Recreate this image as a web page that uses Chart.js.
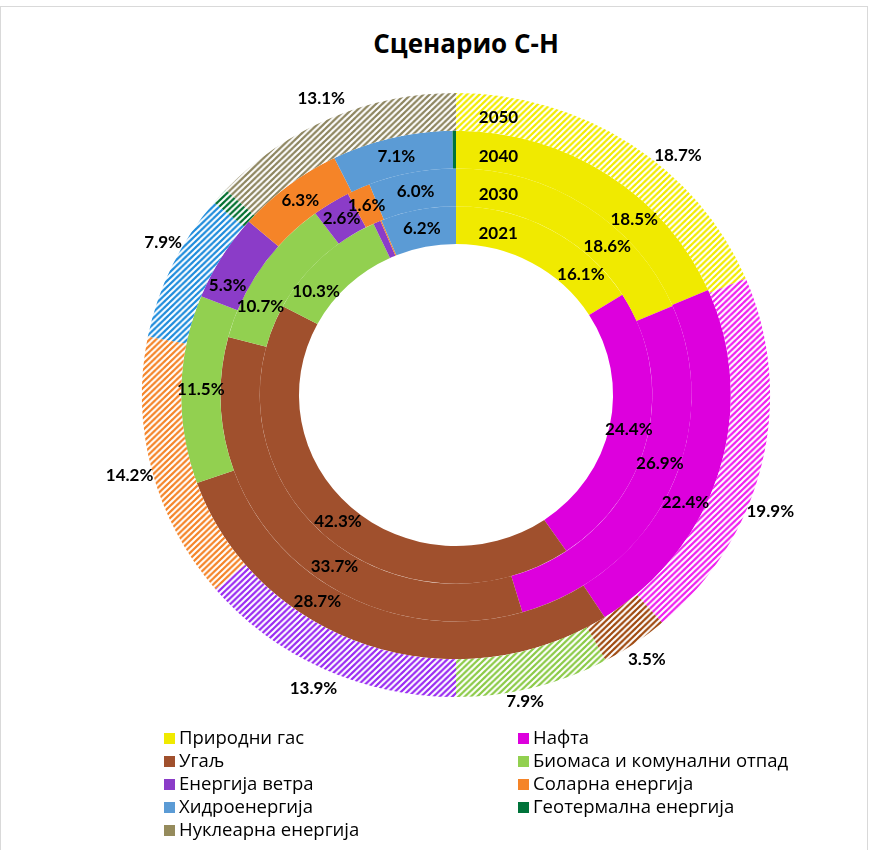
<!DOCTYPE html>
<html>
<head>
<meta charset="utf-8">
<script src="https://cdn.jsdelivr.net/npm/chart.js@4.4.0/dist/chart.umd.min.js"></script>
<style>
    body { margin: 0; background: #fff; font-family: "Open Sans", sans-serif; }
    #wrap { position: relative; width: 881px; height: 850px; overflow: hidden; }
    #frame { position: absolute; left: 0; top: 6px; width: 868px; height: 860px; border: 1px solid #d9d9d9; box-sizing: border-box; }
    #title { position: absolute; top: 25px; left: 0; width: 932px; text-align: center; font-weight: bold; font-size: 26px; color: #000; }
    #chart { position: absolute; left: 0; top: 0; }
    .item { position: absolute; font-size: 18.5px; color: #000; line-height: 20px; white-space: nowrap; }
    .item span { display: inline-block; width: 11px; height: 11px; margin-right: 4px; vertical-align: 0px; }
</style>
</head>
<body>
<div id="wrap">
    <div id="frame"></div>
    <div id="title">Сценарио С-Н</div>
    <canvas id="chart" width="881" height="850"></canvas>
    <div id="legend"></div>
</div>
<script>
// data (shares in %), clockwise from the top
var categories = ['Природни гас', 'Нафта', 'Угаљ', 'Биомаса и комунални отпад', 'Енергија ветра',
    'Соларна енергија', 'Хидроенергија', 'Геотермална енергија', 'Нуклеарна енергија'];
var years = ['2050', '2040', '2030', '2021']; // outer ring first
var share2021 = [16.1, 24.4, 42.3, 10.3, 0.6, 0.1, 6.2, 0, 0];
var share2030 = [18.6, 26.9, 33.7, 10.7, 2.6, 1.6, 6.0, 0, 0];
var share2040 = [18.5, 22.4, 28.7, 11.5, 5.3, 6.3, 7.1, 0.2, 0];
var share2050 = [18.7, 19.9, 3.5, 7.9, 13.9, 14.2, 7.9, 0.9, 13.1];

var colors = ['#F0EA00', '#DD00DD', '#A0502D', '#92D050', '#8B3CC8', '#F58428', '#5B9BD5', '#00733A', '#958B5C'];
var hatchColors = ['#F2EC00', '#F020F0', '#A04A10', '#8CCB48', '#9A2CF2', '#F58428', '#1E8CDC', '#00702E', '#8E8660'];

// legend: left column then right column
var legendLeft = [0, 2, 4, 6, 8];
var legendRight = [1, 3, 5, 7];

var stretchX = 1.04; // reference doughnut is slightly wider than tall

// moves some labels along their arc (degrees), like the hand-placed ones in the picture
var labelNudge = {
    '2021:0': 16, '2030:0': 11, '2040:0': 11, '2050:0': 8,
    '2050:1': 8, '2050:3': 2, '2050:6': 3, '2030:1': -6, '2040:1': 9,
    '2030:2': -10, '2040:2': 14, '2021:3': -9, '2030:3': -9, '2040:4': -5
};
// extra radial offset for a few outer labels (px)
var labelPush = { '2050:3': -10, '2050:6': -4, '2050:0': -3, '2050:2': -2 };

function hatch(color) {
    var s = 6;
    var c = document.createElement('canvas');
    c.width = s; c.height = s;
    var g = c.getContext('2d');
    g.fillStyle = color;
    g.fillRect(0, 0, s, s);
    g.strokeStyle = '#fff';
    g.lineWidth = 2;
    g.beginPath();
    g.moveTo(-1, s + 1); g.lineTo(s + 1, -1);
    g.moveTo(-1, 1); g.lineTo(1, -1);
    g.moveTo(s - 1, s + 1); g.lineTo(s + 1, s - 1);
    g.stroke();
    return g.createPattern(c, 'repeat');
}

var stretch = {
    id: 'stretch',
    beforeDatasetsDraw: function (chart) {
        var cx = chart.getDatasetMeta(0).data[0].x;
        var ctx = chart.ctx;
        ctx.save();
        ctx.translate(cx, 0);
        ctx.scale(stretchX, 1);
        ctx.translate(-cx, 0);
    },
    afterDatasetsDraw: function (chart) {
        chart.ctx.restore();
    }
};

var ringLabels = {
    id: 'ringLabels',
    afterDraw: function (chart) {
        var ctx = chart.ctx;
        ctx.save();
        ctx.font = 'bold 17px Lato';
        ctx.fillStyle = '#000';
        ctx.textAlign = 'center';
        ctx.textBaseline = 'middle';
        chart.data.datasets.forEach(function (ds, di) {
            var meta = chart.getDatasetMeta(di);
            meta.data.forEach(function (arc, i) {
                var v = ds.data[i];
                if (v < 1) return;
                var key = ds.label + ':' + i;
                var p = arc.getProps(['x', 'y', 'startAngle', 'endAngle', 'innerRadius', 'outerRadius']);
                var a = (p.startAngle + p.endAngle) / 2 + (labelNudge[key] || 0) * Math.PI / 180;
                var r = di === 0 ? p.outerRadius + 22 + (labelPush[key] || 0) : (p.innerRadius + p.outerRadius) / 2;
                ctx.fillText(v.toFixed(1) + '%', p.x + Math.cos(a) * r * stretchX, p.y + Math.sin(a) * r);
            });
            // year name at the start of the gas slice
            var g = meta.data[0];
            var rm = (g.innerRadius + g.outerRadius) / 2;
            var ya = g.startAngle + 41 / rm;
            ctx.fillText(ds.label, g.x + Math.cos(ya) * rm * stretchX, g.y + Math.sin(ya) * rm + 3);
        });
        ctx.restore();
    }
};

var ctx = document.getElementById('chart');
var myChart = new Chart(ctx, {
    type: 'doughnut',
    data: {
        labels: categories,
        datasets: [
            { label: years[0], data: share2050, backgroundColor: hatchColors.map(hatch) },
            { label: years[1], data: share2040, backgroundColor: colors },
            { label: years[2], data: share2030, backgroundColor: colors },
            { label: years[3], data: share2021, backgroundColor: colors }
        ]
    },
    options: {
        responsive: false,
        animation: false,
        cutout: '50%',
        elements: { arc: { borderWidth: 0 } },
        layout: { padding: { top: 93, bottom: 153, left: 154, right: 123 } },
        plugins: {
            legend: { display: false },
            title: { display: false },
            tooltip: { enabled: false }
        }
    },
    plugins: [stretch, ringLabels]
});

// html legend
var legend = document.getElementById('legend');
function addItem(idx, row, left) {
    var d = document.createElement('div');
    d.className = 'item';
    d.style.left = left + 'px';
    d.style.top = (727 + row * 23) + 'px';
    d.innerHTML = '<span style="background:' + colors[idx] + '"></span>' + categories[idx];
    legend.appendChild(d);
}
legendLeft.forEach(function (idx, row) { addItem(idx, row, 164); });
legendRight.forEach(function (idx, row) { addItem(idx, row, 518); });
</script>
</body>
</html>
